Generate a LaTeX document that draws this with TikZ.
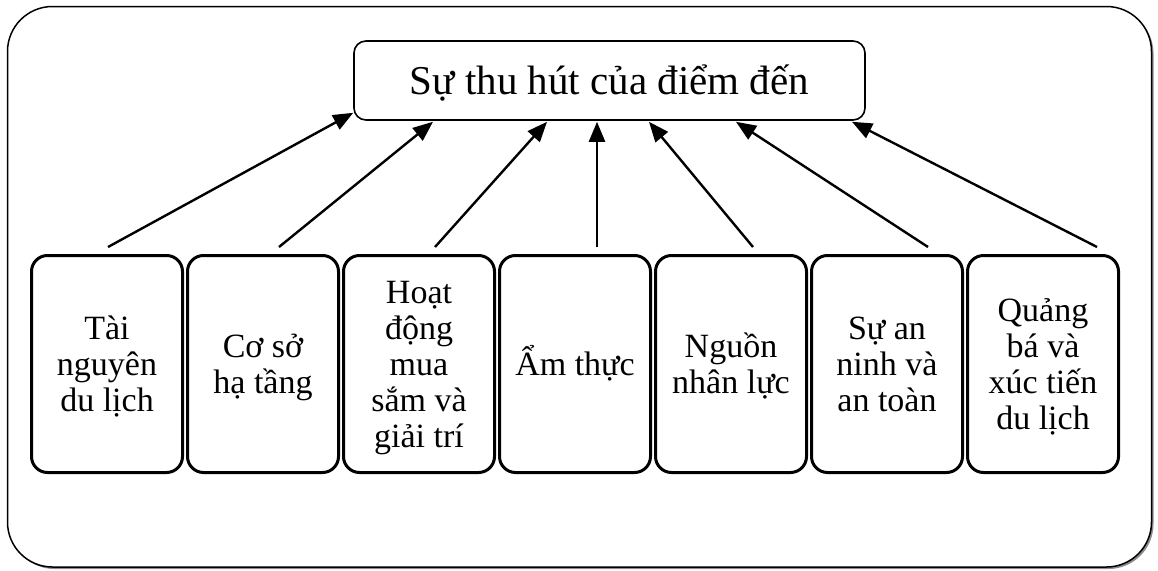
\documentclass[tikz,border=0pt]{standalone}
\usepackage{fontspec}
\setmainfont{Liberation Serif}
\usetikzlibrary{arrows.meta,calc}
\newcommand\fl[1]{\rule[-7pt]{0pt}{36pt}\smash{#1}}
\begin{document}
\begin{tikzpicture}[x=1pt,y=-1pt,
  frame/.style={draw, line width=1.5pt, rounded corners=45pt, fill=white},
  frameshadow/.style={fill=black!45, rounded corners=45pt},
  topbox/.style={draw, line width=1.6pt, rounded corners=12pt, minimum width=511pt, minimum height=79pt, inner sep=0pt, text height=28pt, text depth=0pt, font=\fontsize{41}{47}\selectfont},
  factor/.style={draw, line width=3pt, rounded corners=16pt, minimum width=151pt, minimum height=217pt, inner sep=0pt, align=center, font=\fontsize{34}{36}\selectfont},
  link/.style={line width=2.4pt, -{Triangle[length=20pt,width=16pt]}}]
\useasboundingbox (0,0) rectangle (1158,570);
\fill[frameshadow] (9.5,8.5) rectangle (1153.5,569);
\draw[frame] (7.5,6.5) rectangle (1151.5,567);

\node[topbox] (top) at (609.5,80.5) {Sự thu hút của điểm đến};

\node[factor] (f1) at (107,364) {\fl{Tài}\\\fl{nguyên}\\\fl{du lịch}};
\node[factor] (f2) at (263,364) {\fl{Cơ sở}\\\fl{hạ tầng}};
\node[factor] (f3) at (419,364) {\fl{Hoạt}\\\fl{động}\\\fl{mua}\\\fl{sắm và}\\\fl{giải trí}};
\node[factor] (f4) at (575,364) {\fl{Ẩm thực}};
\node[factor] (f5) at (731,364) {\fl{Nguồn}\\\fl{nhân lực}};
\node[factor] (f6) at (887,364) {\fl{Sự an}\\\fl{ninh và}\\\fl{an toàn}};
\node[factor] (f7) at (1043,364) {\fl{Quảng}\\\fl{bá và}\\\fl{xúc tiến}\\\fl{du lịch}};

\coordinate (s1) at ($(f1.north)+(1,-7)$);
\coordinate (s2) at ($(f2.north)+(16,-7)$);
\coordinate (s3) at ($(f3.north)+(16,-7)$);
\coordinate (s4) at ($(f4.north)+(22,-7)$);
\coordinate (s5) at ($(f5.north)+(22,-7)$);
\coordinate (s6) at ($(f6.north)+(41,-7)$);
\coordinate (s7) at ($(f7.north)+(54,-7)$);

\coordinate (e1) at ($(top.south west)+(0,-8)$);
\coordinate (e2) at ($(top.south)+(-176.5,1)$);
\coordinate (e3) at ($(top.south)+(-62.5,1)$);
\coordinate (e4) at ($(top.south)+(-12.5,1)$);
\coordinate (e5) at ($(top.south)+(39.5,1)$);
\coordinate (e6) at ($(top.south)+(126.5,1)$);
\coordinate (e7) at ($(top.south)+(242.5,1)$);

\foreach \i in {1,...,7} {\draw[link] (s\i) -- (e\i);}
\end{tikzpicture}
\end{document}
